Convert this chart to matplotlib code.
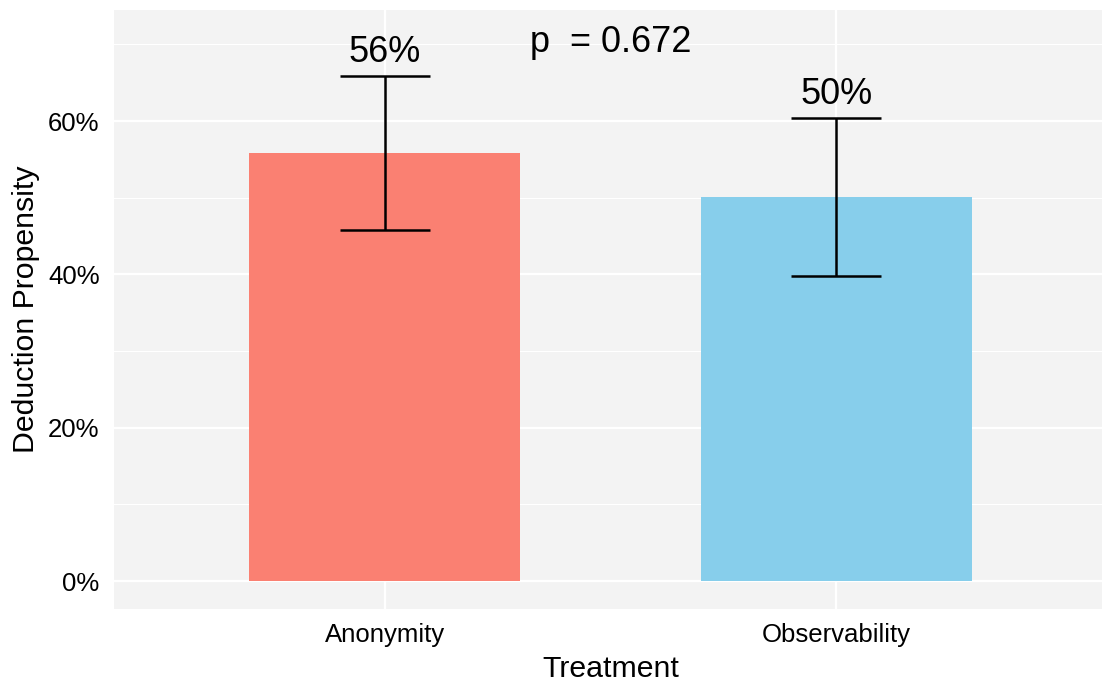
import matplotlib.pyplot as plt
from matplotlib.ticker import FixedLocator

plt.rcParams['font.family'] = ['Liberation Sans', 'DejaVu Sans']

treatments = ["Anonymity", "Observability"]
propensity = [55.8, 50.1]
ci_low = [45.8, 39.8]
ci_high = [65.9, 60.4]
bar_colors = ["#FA8072", "#87CEEB"]
p_label = "p  = 0.672"

fig = plt.figure(figsize=(11.02, 6.83), dpi=100)
# panel runs a few px past the right edge of the image, as in the original
ax = fig.add_axes([113.5 / 1102, (683 - 609) / 683, 994 / 1102, 599 / 683])
ax.set_facecolor("#F3F3F3")

x = [1, 2]
ax.bar(x, propensity, width=0.6, color=bar_colors, zorder=2)
yerr = [[p - l for p, l in zip(propensity, ci_low)],
        [h - p for p, h in zip(propensity, ci_high)]]
ax.errorbar(x, propensity, yerr=yerr, fmt='none', ecolor='black',
            elinewidth=1.8, capsize=32.5, capthick=1.8, zorder=3)

for xi, hi, val in zip(x, ci_high, propensity):
    ax.annotate(f"{round(val)}%", (xi, hi), xytext=(0, 10), textcoords='offset points',
                ha='center', va='baseline', fontsize=26)

ax.text(1.5, 69.0, p_label, ha='center', va='baseline', fontsize=26)

ax.set_xlim(0.4, 2.6)
ax.set_ylim(-3.65, 74.5)
ax.set_xticks(x)
ax.set_xticklabels(treatments)
ax.set_yticks([0, 20, 40, 60])
ax.set_yticklabels(["0%", "20%", "40%", "60%"])
ax.yaxis.set_minor_locator(FixedLocator([10, 30, 50, 70]))
ax.tick_params(axis='both', which='both', length=0, labelsize=18.5, pad=10)
ax.grid(True, which='major', color='white', linewidth=1.6, zorder=0)
ax.grid(True, which='minor', axis='y', color='white', linewidth=0.8, zorder=0)
ax.set_axisbelow(True)
for s in ax.spines.values():
    s.set_visible(False)

ax.set_xlabel("Treatment", fontsize=21.8, labelpad=6)
ax.set_ylabel("Deduction Propensity", fontsize=21.8, labelpad=6)

fig.savefig("out.png", dpi=100)
